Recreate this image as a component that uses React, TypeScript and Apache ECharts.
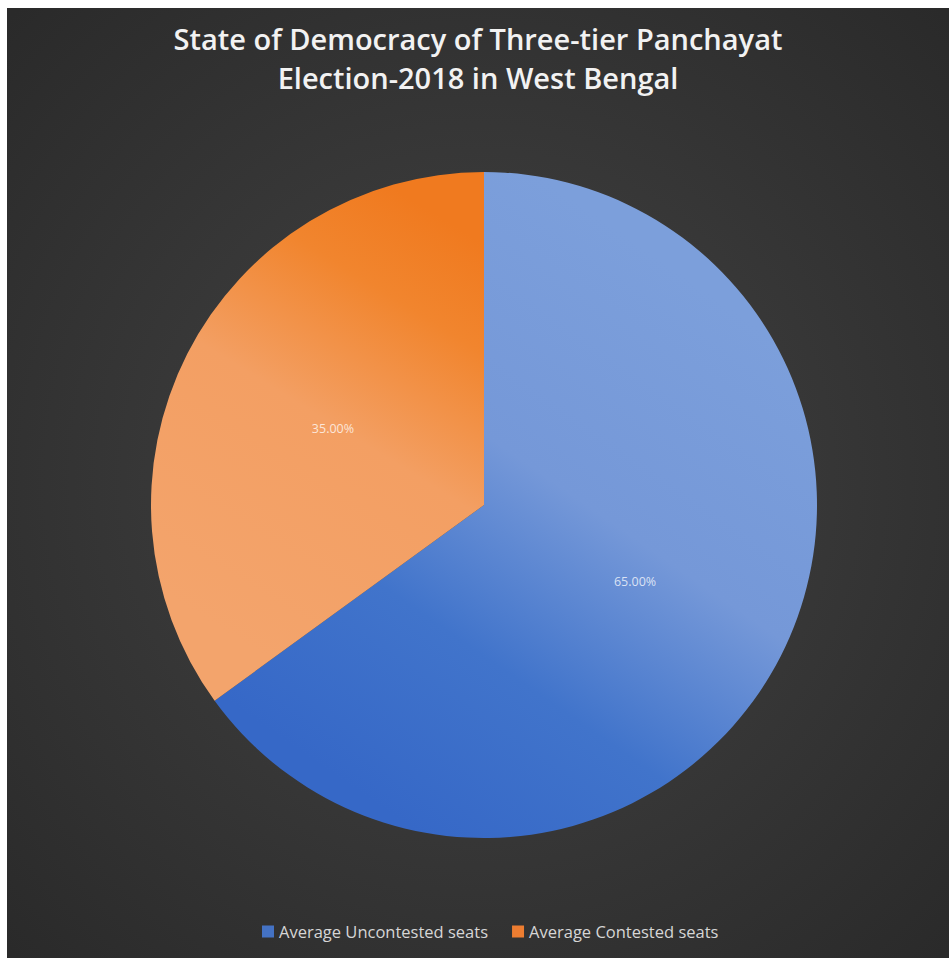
import React, { useEffect, useRef } from "react";
import * as echarts from "echarts";

const titleLines = ["State of Democracy of Three-tier Panchayat", "Election-2018 in West Bengal"];
const categories = ["Average Uncontested seats", "Average Contested seats"];
const values = [65, 35];

export default function App() {
  const ref = useRef<HTMLDivElement>(null);
  useEffect(() => {
    if (!ref.current) return;
    const chart = echarts.init(ref.current, undefined, { renderer: "svg" });
    const blueGrad = new echarts.graphic.LinearGradient(0.85, 0.2, 0.35, 1, [
      { offset: 0, color: "#7c9fdb" },
      { offset: 0.4, color: "#7598d8" },
      { offset: 0.7, color: "#4174cb" },
      { offset: 1, color: "#3668c7" },
    ]);
    const orangeGrad = new echarts.graphic.LinearGradient(0.65, 0, 0.3, 0.9, [
      { offset: 0, color: "#f07a1f" },
      { offset: 0.2, color: "#f1852e" },
      { offset: 0.5, color: "#f39f63" },
      { offset: 1, color: "#f3a46c" },
    ]);
    const colors = [blueGrad, orangeGrad];
    chart.setOption({
      animation: false,
      backgroundColor: new echarts.graphic.RadialGradient(0.5, 0.5, 0.7, [
        { offset: 0, color: "#444444" },
        { offset: 1, color: "#2a2a2a" },
      ]),
      title: {
        text: titleLines.join("\n"),
        left: "center",
        top: 6,
        textStyle: {
          color: "#f2f2f2",
          fontFamily: "Open Sans",
          fontWeight: 600,
          fontSize: 29,
          lineHeight: 39,
        },
      },
      legend: {
        bottom: 13,
        left: 250,
        itemWidth: 12,
        itemHeight: 12,
        itemGap: 24,
        icon: "rect",
        textStyle: { color: "#d6d6d6", fontFamily: "Open Sans", fontSize: 16.5 },
        data: [
          { name: categories[0], itemStyle: { color: "#4472c4" } },
          { name: categories[1], itemStyle: { color: "#ed7d31" } },
        ],
      },
      series: [
        {
          type: "pie",
          center: [477, 497],
          radius: 333,
          startAngle: 90,
          clockwise: true,
          label: {
            position: "inside",
            formatter: (p: any) => p.value.toFixed(2) + "%",
            color: "rgba(255,255,255,0.75)",
            fontFamily: "Open Sans",
            fontSize: 12.5,
          },
          labelLine: { show: false },
          emphasis: { disabled: true },
          data: categories.map((c, i) => ({
            name: c,
            value: values[i],
            itemStyle: { color: colors[i] },
          })),
        },
      ],
    });
    return () => chart.dispose();
  }, []);
  return (
    <div style={{ position: "fixed", left: 0, top: 0, width: 949, height: 958, background: "#ffffff" }}>
      <div ref={ref} style={{ position: "absolute", left: 7, top: 8, width: 942, height: 950 }} />
    </div>
  );
}
